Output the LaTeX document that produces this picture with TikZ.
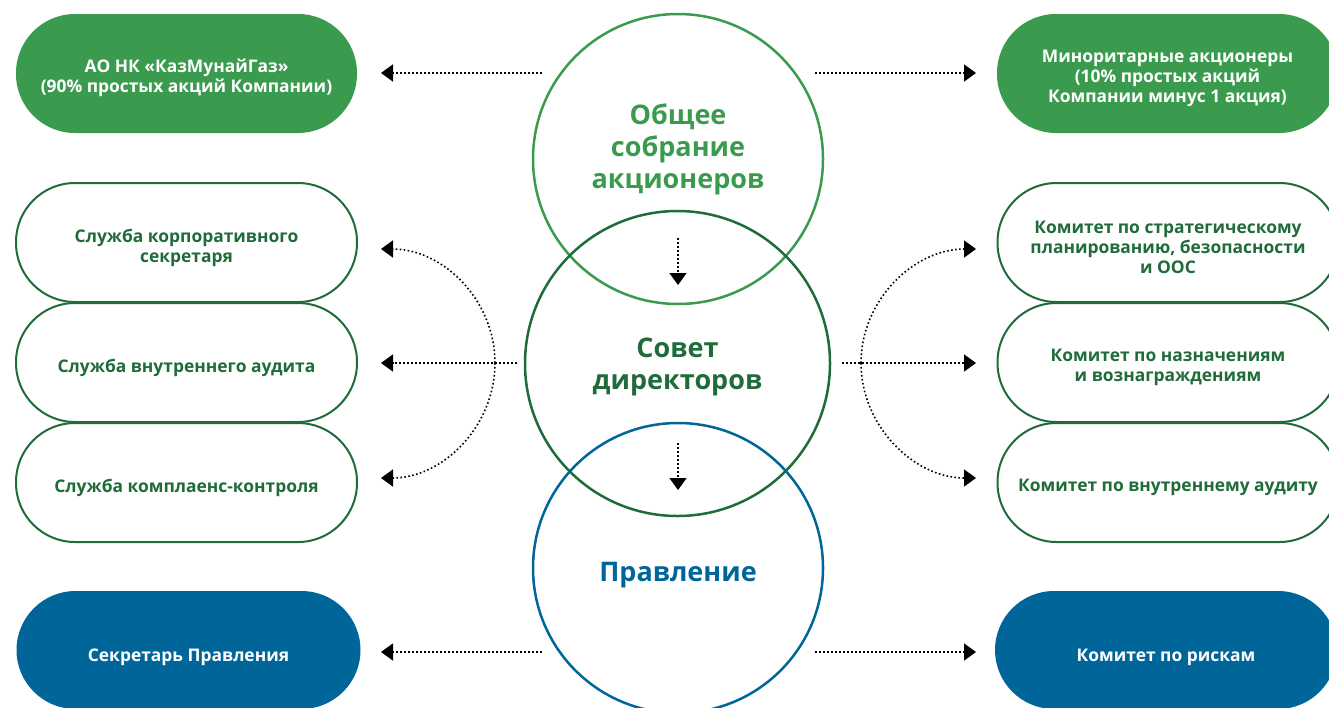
\documentclass[tikz,border=0pt]{standalone}
\usepackage{fontspec}
\setmainfont{Open Sans}
\usetikzlibrary{arrows.meta}
\definecolor{lgreen}{HTML}{3A9B4F}
\definecolor{dgreen}{HTML}{1F6B3A}
\definecolor{blu}{HTML}{00669A}
\begin{document}
\begin{tikzpicture}[x=1pt,y=-1pt,
  pill/.style={rectangle, rounded corners=59pt, minimum width=341pt, minimum height=119pt, inner sep=0pt},
  pilltext/.style={font=\fontsize{17.4}{20}\selectfont\bfseries, align=center, text=#1, yshift=-5pt},
  filledpill/.style={pill, fill=#1},
  outlpill/.style={pill, draw=dgreen, line width=2pt},
  body/.style={circle, draw=#1, minimum size=290pt, line width=2.5pt, inner sep=0pt},
  bodytext/.style={font=\fontsize{27}{32}\selectfont\bfseries, align=center, text=#1},
  arr/.style={line width=1.6pt, dash pattern=on 1.6pt off 2.4pt, -{Triangle[length=12pt,width=17pt]}},
]
\useasboundingbox (0,0) rectangle (1329,707);
\clip (0,0) rectangle (1329,707);

% central bodies
\node[body=lgreen, label={[bodytext=lgreen, yshift=10pt]center:Общее\\собрание\\акционеров}] (gs) at (678,159) {};
\node[body=dgreen, minimum size=305pt, label={[bodytext=dgreen, yshift=-3pt]center:Совет\\директоров}] (sd) at (677.5,363.5) {};
\node[body=blu, label={[bodytext=blu, yshift=-7pt]center:Правление}] (pr) at (678,568) {};

% top pills
\node[filledpill=lgreen, label={[pilltext=white, yshift=1pt]center:АО НК «КазМунайГаз»\\(90\% простых акций Компании)}] (kmg) at (186.5,73.5) {};
\node[filledpill=lgreen, label={[pilltext=white]center:Миноритарные акционеры\\(10\% простых акций\\Компании минус 1 акция)}] (min) at (1167.5,73.5) {};

% left outlined pills
\node[outlpill, label={[pilltext=dgreen]center:Служба корпоративного\\секретаря}] (ks) at (186.5,242.5) {};
\node[outlpill, label={[pilltext=dgreen]center:Служба внутреннего аудита}] (va) at (186.5,362.5) {};
\node[outlpill, label={[pilltext=dgreen]center:Служба комплаенс-контроля}] (kk) at (186.5,482.5) {};

% right outlined pills
\node[outlpill, label={[pilltext=dgreen]center:Комитет по стратегическому\\планированию, безопасности\\и ООС}] (ksp) at (1168,242.5) {};
\node[outlpill, label={[pilltext=dgreen]center:Комитет по назначениям\\и вознаграждениям}] (knv) at (1168,362.5) {};
\node[outlpill, label={[pilltext=dgreen]center:Комитет по внутреннему аудиту}] (kva) at (1168,482.5) {};

% bottom pills
\node[filledpill=blu, minimum width=344pt, minimum height=118pt, label={[pilltext=white, yshift=-2pt]center:Секретарь Правления}] (spr) at (188.5,650) {};
\node[filledpill=blu, minimum width=342pt, minimum height=118pt, label={[pilltext=white, yshift=-2pt]center:Комитет по рискам}] (kr) at (1166,650) {};

% connector ends
\coordinate (gsL) at (542,73);
\coordinate (gsR) at (815,73);
\coordinate (sdL) at (517,363);
\coordinate (sdR) at (842,363);
\coordinate (cL) at (495,363);
\coordinate (cR) at (861,363);
\coordinate (prL) at (542,652);
\coordinate (prR) at (815,652);
\coordinate (tKS) at (381,249);
\coordinate (tKK) at (381,478);
\coordinate (tKSP) at (976,249);
\coordinate (tKVA) at (976,478);
\coordinate (d1s) at (678,238);
\coordinate (d1e) at (678,285);
\coordinate (d2s) at (678,443);
\coordinate (d2e) at (678,490);

% connectors
\draw[arr] (gsL) -- (gsL -| tKS);
\draw[arr] (gsR) -- (gsR -| tKSP);
\draw[arr] (sdL) -- (sdL -| tKS);
\draw[arr] (sdR) -- (sdR -| tKSP);
\draw[arr] (prL) -- (prL -| tKS);
\draw[arr] (prR) -- (prR -| tKSP);
\draw[arr] (cL) .. controls (495,300) and (443,249) .. (tKS);
\draw[arr] (cL) .. controls (495,426) and (443,478) .. (tKK);
\draw[arr] (cR) .. controls (861,300) and (914,249) .. (tKSP);
\draw[arr] (cR) .. controls (861,426) and (914,478) .. (tKVA);
\draw[arr] (d1s) -- (d1e);
\draw[arr] (d2s) -- (d2e);
\end{tikzpicture}
\end{document}
